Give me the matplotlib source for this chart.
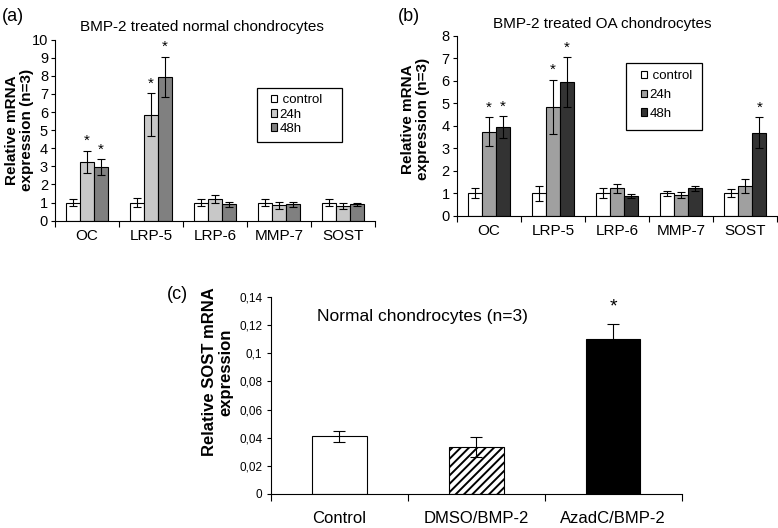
import matplotlib
matplotlib.use("Agg")
import matplotlib.pyplot as plt
import numpy as np
from matplotlib.patches import Rectangle

plt.rcParams['font.family'] = ['Liberation Sans', 'DejaVu Sans']
plt.rcParams['hatch.linewidth'] = 1.4

genes = ["OC", "LRP-5", "LRP-6", "MMP-7", "SOST"]
series = [" control", "24h", "48h"]

a_control = [1.0, 1.0, 1.0, 1.0, 1.0]
a_control_err = [0.2, 0.25, 0.2, 0.2, 0.2]
a_24h = [3.25, 5.85, 1.2, 0.85, 0.8]
a_24h_err = [0.6, 1.2, 0.2, 0.18, 0.15]
a_48h = [2.95, 7.95, 0.9, 0.9, 0.9]
a_48h_err = [0.45, 1.1, 0.12, 0.13, 0.1]
a_stars = {(0, 1), (0, 2), (1, 1), (1, 2)}

b_control = [1.0, 1.0, 1.0, 1.0, 1.0]
b_control_err = [0.22, 0.33, 0.22, 0.13, 0.18]
b_24h = [3.75, 4.85, 1.22, 0.93, 1.32]
b_24h_err = [0.63, 1.2, 0.2, 0.15, 0.3]
b_48h = [3.95, 5.95, 0.88, 1.22, 3.7]
b_48h_err = [0.48, 1.1, 0.1, 0.1, 0.68]
b_stars = {(0, 1), (0, 2), (1, 1), (1, 2), (4, 2)}

c_groups = ["Control", "DMSO/BMP-2", "AzadC/BMP-2"]
c_values = [0.041, 0.0335, 0.110]
c_err = [0.004, 0.007, 0.011]

fig = plt.figure(figsize=(7.78, 5.28), dpi=100)


def grouped(ax, vals, errs, colors, stars, ymax, title, title_x, ylab_y,
            leg_anchor, leg_spacing, frame_box):
    n = len(genes)
    x = np.arange(n)
    w = 0.22
    for i, (v, e, c) in enumerate(zip(vals, errs, colors)):
        pos = x + (i - 1) * w
        ax.bar(pos, v, width=w, color=c, edgecolor='black', linewidth=0.8, zorder=2,
               label=series[i])
        ax.errorbar(pos, v, yerr=e, fmt='none', ecolor='black', elinewidth=0.8,
                    capsize=3, capthick=0.8, zorder=3)
        for j in range(n):
            if (j, i) in stars:
                ax.text(pos[j], v[j] + e[j] + ymax * 0.015, "*", ha='center',
                        va='bottom', fontsize=11)
    ax.set_xlim(-0.5, n - 0.5)
    ax.set_ylim(0, ymax)
    ax.set_yticks(range(0, ymax + 1))
    ax.set_xticks(np.arange(-0.5, n, 1.0))
    ax.set_xticklabels([])
    ax.set_xticks(x, minor=True)
    ax.set_xticklabels(genes, minor=True, fontsize=11)
    ax.tick_params(axis='x', which='minor', length=0, pad=6)
    ax.tick_params(axis='x', which='major', length=4, direction='out')
    ax.tick_params(axis='y', length=3, direction='out', labelsize=10.5, pad=2)
    for s in ['top', 'right']:
        ax.spines[s].set_visible(False)
    ax.set_ylabel("Relative mRNA\nexpression (n=3)", fontsize=11, fontweight='bold',
                  linespacing=1.05)
    ax.yaxis.set_label_coords(ylab_y[0], ylab_y[1])
    ax.set_title(title, fontsize=11, pad=6, x=title_x)
    leg = ax.legend(loc='center left', bbox_to_anchor=leg_anchor, frameon=False,
                    fontsize=9.5, handlelength=0.5, handleheight=0.5,
                    handletextpad=0.15, borderpad=0, borderaxespad=0,
                    labelspacing=leg_spacing)
    x0, y0, x1, y1 = frame_box
    ax.add_patch(Rectangle((x0, y0), x1 - x0, y1 - y0, transform=ax.transAxes,
                           fill=False, edgecolor='black', linewidth=0.9,
                           zorder=4, clip_on=False))


axa = fig.add_axes([0.0707, 0.582, 0.411, 0.343])
grouped(axa, [a_control, a_24h, a_48h], [a_control_err, a_24h_err, a_48h_err],
        ['white', '#c8c8c8', '#808080'], a_stars, 10,
        "BMP-2 treated normal chondrocytes", 0.46, (-0.066, 0.5),
        (0.675, 0.586), 0.17, (0.631, 0.436, 0.897, 0.734))

axb = fig.add_axes([0.587, 0.591, 0.412, 0.341])
grouped(axb, [b_control, b_24h, b_48h], [b_control_err, b_24h_err, b_48h_err],
        ['white', '#a0a0a0', '#333333'], b_stars, 8,
        "BMP-2 treated OA chondrocytes", 0.453, (-0.084, 0.54),
        (0.574, 0.672), 0.5, (0.528, 0.478, 0.766, 0.85))

fig.text(0.002, 0.985, "(a)", fontsize=13, va='top', ha='left')
fig.text(0.511, 0.985, "(b)", fontsize=13, va='top', ha='left')
fig.text(0.215, 0.458, "(c)", fontsize=13, va='top', ha='left')

# Panel c
axc = fig.add_axes([0.348, 0.0644, 0.528, 0.373])
xc = np.arange(len(c_groups))
wc = 0.4
hatches = ['', '////', '']
fills = ['white', 'white', 'black']
for i in range(len(c_groups)):
    axc.bar(xc[i], c_values[i], width=wc, color=fills[i], edgecolor='black',
            linewidth=0.8, hatch=hatches[i], zorder=2)
axc.errorbar(xc, c_values, yerr=c_err, fmt='none', ecolor='black', elinewidth=0.8,
             capsize=4, capthick=0.8, zorder=3)
axc.text(xc[2], c_values[2] + c_err[2] + 0.006, "*", ha='center', va='bottom', fontsize=14)
axc.set_xlim(-0.5, 2.5)
axc.set_ylim(0, 0.14)
yt = np.arange(0, 0.141, 0.02)
axc.set_yticks(yt)
axc.set_yticklabels(["0" if v == 0 else ("%.2f" % v).rstrip('0').replace('.', ',') for v in yt],
                    fontsize=8.5)
axc.set_xticks(np.arange(-0.5, 3, 1.0))
axc.set_xticklabels([])
axc.set_xticks(xc, minor=True)
axc.set_xticklabels(c_groups, minor=True, fontsize=12)
axc.tick_params(axis='x', which='minor', length=0, pad=12)
axc.tick_params(axis='x', which='major', length=5, direction='out')
axc.tick_params(axis='y', length=3, direction='out', pad=3)
for s in ['top', 'right']:
    axc.spines[s].set_visible(False)
axc.set_ylabel("Relative SOST mRNA\nexpression", fontsize=12, fontweight='bold',
               linespacing=1.05)
axc.yaxis.set_label_coords(-0.092, 0.62)
axc.text(0.112, 0.899, "Normal chondrocytes (n=3)", fontsize=12.5,
         ha='left', va='center', transform=axc.transAxes)

fig.savefig("out.png", dpi=100)
